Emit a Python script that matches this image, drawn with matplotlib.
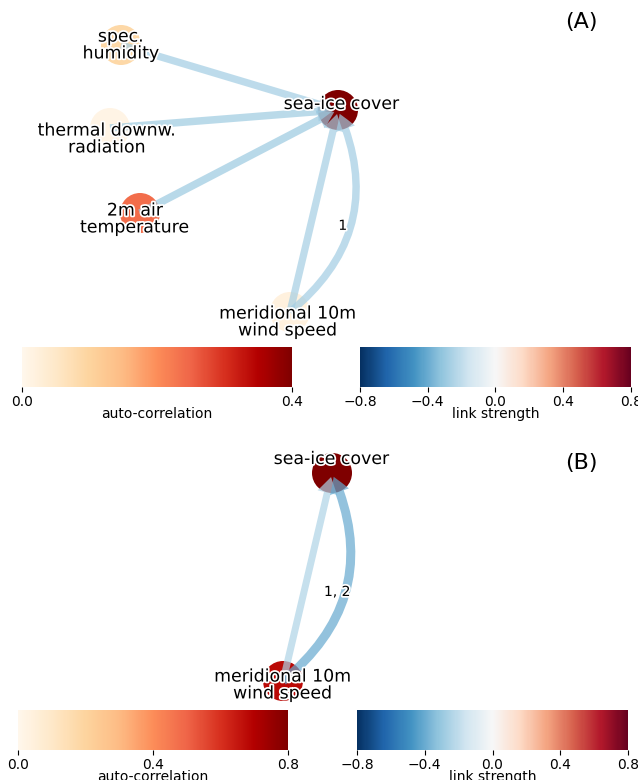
import matplotlib
matplotlib.use('Agg')
from matplotlib import pyplot as plt
from matplotlib import patheffects
from matplotlib.patches import FancyArrowPatch, Circle, ArrowStyle
import matplotlib as mpl


# panel A: nodes
names_a = ['spec.\nhumidity', 'thermal downw.\nradiation', '2m air\ntemperature',
           'sea-ice cover', 'meridional 10m\nwind speed']
auto_a = [0.09, 0.01, 0.24, 0.40, 0.02]
# panel A: links (source, target, strength, lag label)
src_a = [0, 1, 2, 4, 4]
dst_a = [3, 3, 3, 3, 3]
val_a = [-0.28, -0.29, -0.30, -0.27, -0.28]
lag_a = ['', '', '', '', '1']

# panel B
names_b = ['sea-ice cover', 'meridional 10m\nwind speed']
auto_b = [0.80, 0.68]
src_b = [1, 1]
dst_b = [0, 0]
val_b = [-0.25, -0.41]
lag_b = ['', '1, 2']

# node layout (pixel coords of the figure)
pos_a = [(121, 45), (110, 128), (140, 213), (338, 110), (290, 312)]
lab_off_a = [(0, 0), (-3, 11), (-5, 6), (4, -6), (-2, 10)]
pos_b = [(332, 473), (283, 681)]
lab_off_b = [(0, -14), (0, 4)]

W, H = 638, 780
PT = 0.72  # points per pixel at 100 dpi
fig = plt.figure(figsize=(W / 100, H / 100), dpi=100)
ax = fig.add_axes([0, 0, 1, 1])
ax.set_xlim(0, W)
ax.set_ylim(H, 0)
ax.axis('off')

node_cmap = plt.get_cmap('OrRd')
link_cmap = plt.get_cmap('RdBu_r')
link_norm = mpl.colors.Normalize(-0.8, 0.8)
halo = [patheffects.withStroke(linewidth=2.5, foreground='w')]
RAD = 0.38


def draw_graph(names, auto, vmax, pos, lab_off, src, dst, vals, lags):
    for i in range(len(names)):
        c = node_cmap(auto[i] / vmax)
        ax.add_patch(Circle(pos[i], 20, facecolor=c, edgecolor='none', zorder=1))
    for s, d, v, lag in zip(src, dst, vals, lags):
        col = link_cmap(link_norm(v))
        tail = (4 + 12 * abs(v)) * PT
        style = ArrowStyle.Simple(head_length=16 * PT, head_width=20 * PT, tail_width=tail)
        conn = 'arc3,rad=%g' % (RAD if lag else 0)
        arr = FancyArrowPatch(pos[s], pos[d], arrowstyle=style, connectionstyle=conn,
                              mutation_scale=1, lw=0, color=col, alpha=0.7,
                              shrinkA=0, shrinkB=3, zorder=2)
        ax.add_patch(arr)
        if lag:
            x0, y0 = pos[s]
            x1, y1 = pos[d]
            mx = (x0 + x1) / 2 + RAD * (y0 - y1) / 2 * 0.75
            my = (y0 + y1) / 2 + RAD * (x1 - x0) / 2 * 0.75 + 8
            ax.text(mx, my, lag, fontsize=10, ha='center', va='center',
                    path_effects=halo, zorder=4)
    for i in range(len(names)):
        x, y = pos[i]
        dx, dy = lab_off[i]
        ax.text(x + dx, y + dy, names[i], fontsize=12.5, ha='center', va='center',
                linespacing=0.92, path_effects=halo, zorder=3)


draw_graph(names_a, auto_a, 0.4, pos_a, lab_off_a, src_a, dst_a, val_a, lag_a)
draw_graph(names_b, auto_b, 0.8, pos_b, lab_off_b, src_b, dst_b, val_b, lag_b)

ax.text(581, 22, '(A)', fontsize=16, ha='center', va='center')
ax.text(581, 463, '(B)', fontsize=16, ha='center', va='center')


def colorbars(y_top, x_left, x_right, vmax, node_ticks):
    h = 40
    cax1 = fig.add_axes([x_left / W, 1 - (y_top + h) / H, 270 / W, h / H])
    cb1 = mpl.colorbar.ColorbarBase(cax1, cmap=node_cmap, orientation='horizontal',
                                    norm=mpl.colors.Normalize(0, vmax))
    cb1.set_ticks(node_ticks)
    cb1.outline.set_visible(False)
    cb1.set_label('auto-correlation', fontsize=10, labelpad=-1)
    cax1.tick_params(labelsize=10, pad=2)
    cax2 = fig.add_axes([x_right / W, 1 - (y_top + h) / H, 271 / W, h / H])
    cb2 = mpl.colorbar.ColorbarBase(cax2, cmap=link_cmap, orientation='horizontal',
                                    norm=link_norm)
    cb2.set_ticks([-0.8, -0.4, 0.0, 0.4, 0.8])
    cb2.outline.set_visible(False)
    cb2.set_label('link strength', fontsize=10, labelpad=-1)
    cax2.tick_params(labelsize=10, pad=2)


colorbars(347, 22, 360, 0.4, [0.0, 0.4])
colorbars(710, 18, 357, 0.8, [0.0, 0.4, 0.8])

fig.savefig('out.png', dpi=100)
